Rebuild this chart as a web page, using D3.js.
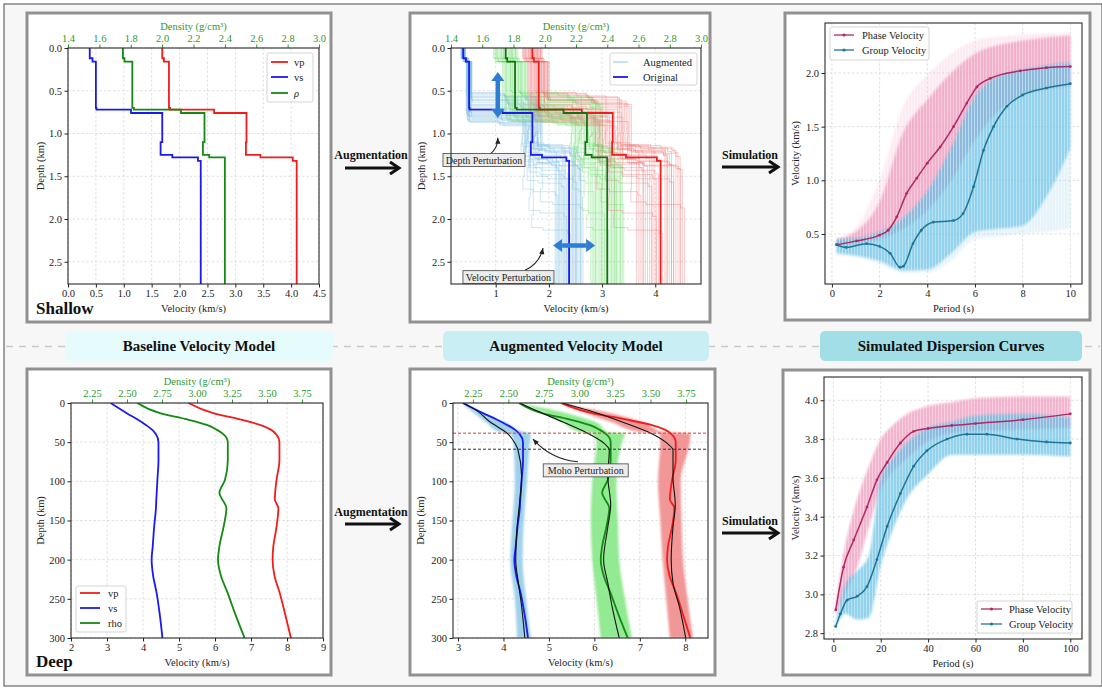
<!DOCTYPE html>
<html>
<head>
<meta charset="utf-8">
<script src="https://cdn.jsdelivr.net/npm/d3@7"></script>
<style>
body{margin:0;background:#fff;}
svg{display:block;font-family:"Liberation Serif","Times New Roman",serif;}
</style>
</head>
<body>
<svg id="fig" width="1102" height="688"></svg>
<script>
// ---------------- shallow layered model (layer tops, km) ----------------
var shallowTop=[0,0.12,0.16,0.70,0.72,0.76,1.10,1.25,1.28,1.32];
var shallowBase=2.76;
var shallowVs=[0.39,0.44,0.50,0.51,1.13,1.69,1.66,1.87,2.33,2.38];
var shallowVp=[1.69,1.72,1.81,1.83,2.62,3.20,3.19,3.45,4.03,4.10];
var shallowRho=[1.75,1.76,1.81,1.82,2.12,2.27,2.26,2.30,2.40,2.40];

// augmented members: velocity scale, shift of upper / lower interfaces (km)
var augScale=[-0.10,0.06,-0.04,0.09,-0.07,0.02,0.11,-0.11,0.04,-0.02,0.07,-0.08,0.01,-0.05,0.10,
              -0.03,0.05,-0.09,0.03,-0.01,0.08,-0.06,0.00,0.06,-0.04,0.09,-0.02,0.03,-0.08,0.05];
var augShiftA=[-0.15,0.05,-0.20,0.10,-0.05,0.15,-0.10,0.02,-0.18,0.08,-0.12,0.12,-0.02,0.14,-0.08,
               0.04,-0.16,0.06,-0.04,0.11,-0.14,0.00,0.09,-0.06,0.13,-0.11,0.03,-0.19,0.07,-0.01];
var augShiftB=[-0.10,0.05,0.30,-0.05,0.12,-0.14,0.55,0.02,-0.08,0.20,-0.12,0.08,0.85,-0.03,0.10,
               -0.15,0.04,0.40,-0.06,0.15,-0.10,0.06,-0.02,0.25,-0.13,0.09,0.65,-0.07,0.01,-0.11];

// ---------------- deep model ----------------
var deepDepth=[0,13,21,28,34,40,50,73,98,115,123,134,158,183,200,220,243,268,300];
var deepVs=[3.10,3.55,3.85,4.08,4.25,4.36,4.43,4.43,4.40,4.38,4.37,4.36,4.31,4.27,4.24,4.28,4.38,4.46,4.54];
var deepVp=[5.26,5.95,6.69,7.25,7.55,7.70,7.79,7.79,7.71,7.67,7.66,7.76,7.71,7.62,7.60,7.65,7.80,7.94,8.11];
var deepRho=[2.574,2.736,2.93,3.07,3.14,3.19,3.22,3.22,3.20,3.16,3.18,3.21,3.19,3.16,3.15,3.17,3.22,3.27,3.34];

// one augmented sample (black) with deeper Moho
var sampleDepth=[0,10,24,38,51,60,94,130,158,200,230,260,300];
var sampleVs=[3.12,3.42,3.70,4.07,4.25,4.32,4.40,4.35,4.30,4.27,4.33,4.40,4.47];
var sampleVp=[5.29,5.90,6.60,7.22,7.59,7.73,7.73,7.78,7.73,7.69,7.73,7.87,8.01];
var sampleRho=[2.58,2.70,2.88,3.05,3.17,3.21,3.20,3.22,3.20,3.17,3.20,3.23,3.28];

// envelopes of augmented deep models
var cloudDepth=[3,15,25,37,39,50,100,150,200,250,300];
var cloudVsLo=[3.12,3.40,3.62,3.90,4.15,4.22,4.25,4.20,4.15,4.25,4.30];
var cloudVsHi=[3.20,3.62,4.05,4.45,4.60,4.58,4.52,4.45,4.42,4.50,4.60];
var cloudRhoLo=[2.60,2.78,2.88,3.00,3.09,3.12,3.09,3.08,3.09,3.12,3.15];
var cloudRhoHi=[2.65,2.95,3.12,3.20,3.32,3.30,3.26,3.27,3.28,3.32,3.37];
var cloudVpLo=[5.32,5.90,6.40,7.00,7.44,7.45,7.40,7.45,7.50,7.58,7.66];
var cloudVpHi=[5.45,6.50,7.10,7.50,8.12,8.10,7.90,7.92,7.95,8.05,8.17];
var mohoOriginal=38.5, mohoShifted=59;

// ---------------- shallow dispersion ----------------
var shPhaseT=[0.2,1.04,2,2.36,2.72,3.14,3.56,4.0,4.54,5.1,5.66,6.08,6.64,7.9,9,10];
var shPhaseV=[0.40,0.436,0.49,0.535,0.66,0.88,1.02,1.16,1.31,1.50,1.72,1.87,1.95,2.02,2.05,2.06];
var shGroupT=[0.2,0.6,1.46,2,2.44,2.86,3.0,3.4,3.75,4.25,5.1,5.5,5.94,6.36,6.78,7.34,8,9,10];
var shGroupV=[0.40,0.375,0.41,0.385,0.32,0.19,0.20,0.41,0.535,0.61,0.625,0.69,0.94,1.28,1.50,1.69,1.795,1.86,1.90];
var shBandT=[0.2,1,2,3,4,5,6,7,8,9,10];
var shPhaseLo=[0.38,0.41,0.45,0.55,0.72,1.00,1.38,1.65,1.80,1.85,1.88];
var shPhaseHi=[0.45,0.52,0.80,1.45,1.75,2.00,2.18,2.26,2.30,2.33,2.35];
var shPhaseOutHi=[0.46,0.56,1.00,1.70,1.98,2.18,2.30,2.34,2.36,2.37,2.37];
var shGroupLo=[0.32,0.30,0.25,0.16,0.17,0.32,0.52,0.55,0.58,0.85,1.30];
var shGroupHi=[0.45,0.46,0.52,0.65,0.90,1.30,1.78,1.97,2.03,2.07,2.10];
var shGroupOutLo=[0.31,0.29,0.22,0.14,0.14,0.25,0.45,0.48,0.50,0.52,0.55];

// ---------------- deep dispersion ----------------
var dpPhaseT=[1,4.3,8.6,14.2,18.4,22.7,28.3,33.9,40,50,60,80,100];
var dpPhaseV=[2.92,3.14,3.28,3.45,3.59,3.68,3.78,3.84,3.855,3.87,3.88,3.90,3.93];
var dpGroupT=[1,3,5.8,10,14.2,18.4,22.7,28.3,33.9,39.5,48,56.4,64.8,77.5,90,100];
var dpGroupV=[2.835,2.90,2.97,2.99,3.04,3.18,3.35,3.52,3.66,3.74,3.80,3.825,3.825,3.80,3.785,3.78];
var dpBandT=[1,5,10,15,20,25,30,40,50,60,80,100];
var dpPhaseLo=[2.89,3.00,3.14,3.35,3.54,3.63,3.69,3.79,3.83,3.84,3.85,3.86];
var dpPhaseHi=[2.95,3.25,3.49,3.66,3.80,3.87,3.92,3.97,3.99,4.01,4.02,4.02];
var dpGroupLo=[2.83,2.90,2.87,2.88,3.15,3.33,3.47,3.62,3.72,3.72,3.72,3.71];
var dpGroupHi=[2.85,3.05,3.12,3.20,3.60,3.70,3.77,3.86,3.89,3.92,3.93,3.91];

var GREEN_TXT="#2e9a2e";
var svg=d3.select("#fig");
var clipN=0;

var defs=svg.append("defs");
defs.append("filter").attr("id","soft").attr("x","-10%").attr("y","-10%").attr("width","120%").attr("height","120%")
    .append("feGaussianBlur").attr("stdDeviation",1.1);
// thin vertical streaks, like many dotted curves stacked
var pat=defs.append("pattern").attr("id","streak").attr("patternUnits","userSpaceOnUse").attr("width",3).attr("height",6);
pat.append("rect").attr("x",2).attr("y",0).attr("width",1).attr("height",6).attr("fill","#fff").attr("fill-opacity",0.35);

// background + outer frame
svg.append("rect").attr("x",4).attr("y",4).attr("width",1098).attr("height",682)
   .attr("fill","#f7f7f7").attr("stroke","#666").attr("stroke-width",1.2);

function makePanel(o){
  svg.append("rect").attr("x",o.box[0]).attr("y",o.box[1]).attr("width",o.box[2]).attr("height",o.box[3])
     .attr("fill","#fff").attr("stroke","#919191").attr("stroke-width",3);
  var p=o.plot;
  var x=d3.scaleLinear().domain(o.xd).range([p[0],p[2]]);
  var y=d3.scaleLinear().domain(o.yd).range(o.down?[p[1],p[3]]:[p[3],p[1]]);
  var t=o.td?d3.scaleLinear().domain(o.td).range([p[0],p[2]]):null;
  var grid=svg.append("g").attr("stroke","#d4d4d4").attr("stroke-width",0.7).attr("stroke-dasharray","2.5,2");
  grid.selectAll(".gx").data(o.xt).join("line")
      .attr("x1",d=>x(d)).attr("x2",d=>x(d)).attr("y1",p[1]).attr("y2",p[3]);
  grid.selectAll(".gy").data(o.yt).join("line")
      .attr("y1",d=>y(d)).attr("y2",d=>y(d)).attr("x1",p[0]).attr("x2",p[2]);
  var id="clip"+(clipN++);
  svg.append("clipPath").attr("id",id).append("rect")
     .attr("x",p[0]).attr("y",p[1]).attr("width",p[2]-p[0]).attr("height",p[3]-p[1]);
  var content=svg.append("g").attr("clip-path","url(#"+id+")");
  var over=svg.append("g");
  var axes=svg.append("g");
  function style(sel,col){
    sel.select(".domain").remove();
    sel.selectAll("line").attr("stroke",col);
    sel.selectAll("text").attr("fill",col).style("font-size","10.5px")
       .style("font-family",'"Liberation Serif",serif');
  }
  axes.append("g").attr("transform","translate(0,"+p[3]+")")
      .call(d3.axisBottom(x).tickValues(o.xt).tickFormat(d3.format(o.xf)).tickSize(3.5).tickPadding(2.5))
      .call(s=>style(s,"#222"));
  axes.append("g").attr("transform","translate("+p[0]+",0)")
      .call(d3.axisLeft(y).tickValues(o.yt).tickFormat(d3.format(o.yf)).tickSize(3.5).tickPadding(2.5))
      .call(s=>style(s,"#222"));
  if(t){
    axes.append("g").attr("transform","translate(0,"+p[1]+")")
        .call(d3.axisTop(t).tickValues(o.tt).tickFormat(d3.format(o.tf)).tickSize(3.5).tickPadding(2.5))
        .call(s=>style(s,GREEN_TXT));
    axes.append("text").attr("x",(p[0]+p[2])/2).attr("y",p[1]-22).attr("dy","0.35em")
        .attr("text-anchor","middle").attr("fill",GREEN_TXT).style("font-size","10.5px")
        .text("Density (g/cm\u00b3)");
  }
  axes.append("rect").attr("x",p[0]).attr("y",p[1]).attr("width",p[2]-p[0]).attr("height",p[3]-p[1])
      .attr("fill","none").attr("stroke","#2a2a2a").attr("stroke-width",1.1);
  axes.append("text").attr("x",(p[0]+p[2])/2).attr("y",p[3]+24).attr("dy","0.35em")
      .attr("text-anchor","middle").attr("fill","#222").style("font-size","10.5px").text(o.xl);
  axes.append("text").attr("transform","translate("+(p[0]-o.ylOff)+","+((p[1]+p[3])/2)+") rotate(-90)")
      .attr("dy","0.35em").attr("text-anchor","middle").attr("fill","#222").style("font-size","10.5px").text(o.yl);
  return {x:x,y:y,t:t,g:content,over:over,axes:axes};
}

function stepPts(tops,vals,base){
  var pts=[];
  for(var i=0;i<tops.length;i++){
    pts.push([vals[i],tops[i]]);
    pts.push([vals[i],i<tops.length-1?tops[i+1]:base]);
  }
  return pts;
}

function legend(g,bx,by,bw,bh,items,lx0,lx1,tx){
  g.append("rect").attr("x",bx).attr("y",by).attr("width",bw).attr("height",bh).attr("rx",2)
   .attr("fill","#fff").attr("fill-opacity",0.9).attr("stroke","#d0d0d0").attr("stroke-width",0.9);
  items.forEach(function(it){
    g.append("line").attr("x1",lx0).attr("x2",lx1).attr("y1",it.y).attr("y2",it.y)
     .attr("stroke",it.c).attr("stroke-width",it.w||1.8).attr("stroke-opacity",it.o||1);
    if(it.m) g.append("circle").attr("cx",(lx0+lx1)/2).attr("cy",it.y).attr("r",1.6).attr("fill",it.c);
    g.append("text").attr("x",tx).attr("y",it.y).attr("dy","0.35em").attr("fill","#222")
     .style("font-size","10.5px").style("font-style",it.it?"italic":"normal").text(it.t);
  });
}

// ---------------- top-left: shallow baseline ----------------
var tl=makePanel({box:[27,13,304,309],plot:[68,48,319,284],xd:[0,4.5],yd:[0,2.76],td:[1.4,3.0],down:true,
  xt:d3.range(0,4.51,0.5),yt:[0,0.5,1,1.5,2,2.5],tt:d3.range(1.4,3.01,0.2),xf:".1f",yf:".1f",tf:".1f",
  xl:"Velocity (km/s)",yl:"Depth (km)",ylOff:28});
var lineV=function(sx,sy){return d3.line().x(d=>sx(d[0])).y(d=>sy(d[1]));};
tl.g.append("path").attr("d",lineV(tl.x,tl.y)(stepPts(shallowTop,shallowVp,shallowBase))).attr("fill","none").attr("stroke","#f21c1c").attr("stroke-width",1.8);
tl.g.append("path").attr("d",lineV(tl.x,tl.y)(stepPts(shallowTop,shallowVs,shallowBase))).attr("fill","none").attr("stroke","#1a1af0").attr("stroke-width",1.8);
tl.g.append("path").attr("d",lineV(tl.t,tl.y)(stepPts(shallowTop,shallowRho,shallowBase))).attr("fill","none").attr("stroke","#138a13").attr("stroke-width",1.8);
legend(tl.over,267,53,46,49,[{t:"vp",c:"#f21c1c",y:62},{t:"vs",c:"#1a1af0",y:77},{t:"\u03c1",c:"#138a13",y:93,it:true}],271,288,294);

// ---------------- top-middle: shallow augmented ----------------
var tm=makePanel({box:[410,13,300,309],plot:[451,48,701,284],xd:[0.16,4.86],yd:[0,2.76],td:[1.4,3.0],down:true,
  xt:[1,2,3,4],yt:[0,0.5,1,1.5,2,2.5],tt:d3.range(1.4,3.01,0.2),xf:"d",yf:".1f",tf:".1f",
  xl:"Velocity (km/s)",yl:"Depth (km)",ylOff:30});
var members=augScale.map(function(s,k){
  var tops=shallowTop.map(function(z,i){return i>=3&&i<=5?z+augShiftA[k]:(i>=6?z+augShiftB[k]:z);});
  return {tops:tops,s:s};
});
var memG=tm.g.append("g").attr("fill","none").attr("stroke-width",1).attr("stroke-opacity",0.36);
members.forEach(function(m){
  memG.append("path").attr("d",lineV(tm.x,tm.y)(stepPts(m.tops,shallowVp.map(v=>v*(1+m.s)),shallowBase))).attr("stroke","#f07070");
  memG.append("path").attr("d",lineV(tm.t,tm.y)(stepPts(m.tops,shallowRho.map(v=>v*(1+m.s*0.4)),shallowBase))).attr("stroke","#66dd66");
  memG.append("path").attr("d",lineV(tm.x,tm.y)(stepPts(m.tops,shallowVs.map(v=>v*(1+m.s)),shallowBase))).attr("stroke","#7fbde0");
});
tm.g.append("path").attr("d",lineV(tm.x,tm.y)(stepPts(shallowTop,shallowVp,shallowBase))).attr("fill","none").attr("stroke","#f21c1c").attr("stroke-width",1.8);
tm.g.append("path").attr("d",lineV(tm.t,tm.y)(stepPts(shallowTop,shallowRho,shallowBase))).attr("fill","none").attr("stroke","#137313").attr("stroke-width",1.8);
tm.g.append("path").attr("d",lineV(tm.x,tm.y)(stepPts(shallowTop,shallowVs,shallowBase))).attr("fill","none").attr("stroke","#1a1af0").attr("stroke-width",1.8);
legend(tm.over,610,53,87,32,[{t:"Augmented",c:"#8cc6e6",y:62,w:1},{t:"Original",c:"#1a1af0",y:77}],613,628,643);

// blue double arrows
function dblArrow(g,x1,y1,x2,y2){
  var a=Math.atan2(y2-y1,x2-x1),L=9,Wd=6.5;
  function head(xe,ye,ang){
    var bx=xe-L*Math.cos(ang),by=ye-L*Math.sin(ang);
    return "M"+xe+","+ye+"L"+(bx+Wd*Math.sin(ang))+","+(by-Wd*Math.cos(ang))+"L"+(bx-Wd*Math.sin(ang))+","+(by+Wd*Math.cos(ang))+"Z";
  }
  g.append("line").attr("x1",x1+L*Math.cos(a)).attr("y1",y1+L*Math.sin(a)).attr("x2",x2-L*Math.cos(a)).attr("y2",y2-L*Math.sin(a))
   .attr("stroke","#2d7dd2").attr("stroke-width",4.5);
  g.append("path").attr("d",head(x2,y2,a)).attr("fill","#2d7dd2");
  g.append("path").attr("d",head(x1,y1,a+Math.PI)).attr("fill","#2d7dd2");
}
dblArrow(tm.over,tm.x(1.04),tm.y(0.28),tm.x(1.04),tm.y(0.82));
dblArrow(tm.over,tm.x(2.08),tm.y(2.31),tm.x(2.87),tm.y(2.31));

function annot(g,text,cx,cy,w,fx,fy,ax,ay,bend){
  var mx=(fx+ax)/2+bend*(ay-fy),my=(fy+ay)/2-bend*(ax-fx);
  g.append("path").attr("d","M"+fx+","+fy+"Q"+mx+","+my+" "+ax+","+ay).attr("fill","none").attr("stroke","#222").attr("stroke-width",1.1);
  var ang=Math.atan2(ay-my,ax-mx);
  g.append("path").attr("d","M"+ax+","+ay+"L"+(ax-6*Math.cos(ang)+2.6*Math.sin(ang))+","+(ay-6*Math.sin(ang)-2.6*Math.cos(ang))
     +"L"+(ax-6*Math.cos(ang)-2.6*Math.sin(ang))+","+(ay-6*Math.sin(ang)+2.6*Math.cos(ang))+"Z").attr("fill","#222");
  g.append("rect").attr("x",cx-w/2).attr("y",cy-6.5).attr("width",w).attr("height",13)
   .attr("fill","#ececec").attr("stroke","#444").attr("stroke-width",0.8);
  g.append("text").attr("x",cx).attr("y",cy).attr("dy","0.35em").attr("text-anchor","middle")
   .attr("fill","#222").style("font-size","10px").text(text);
}
annot(tm.over,"Depth Perturbation",tm.x(0.78),tm.y(1.31),82,tm.x(0.89),tm.y(1.245),tm.x(1.04),tm.y(1.05),-0.25);
annot(tm.over,"Velocity Perturbation",tm.x(1.24),tm.y(2.68),91,tm.x(1.55),tm.y(2.6),tm.x(1.89),tm.y(2.34),-0.25);

// ---------------- top-right: shallow dispersion ----------------
var tr=makePanel({box:[785,13,305,307],plot:[825,23,1082,284],xd:[-0.29,10.49],yd:[0.034,2.466],
  xt:[0,2,4,6,8,10],yt:[0.5,1.0,1.5,2.0],xf:"d",yf:".1f",xl:"Period (s)",yl:"Velocity (km/s)",ylOff:30});
function band(pnl,T,lo,hi,col,op){
  var data=T.map((t,i)=>({t:t,lo:lo[i],hi:hi[i]}));
  var d=d3.area().x(d=>pnl.x(d.t)).y0(d=>pnl.y(d.lo)).y1(d=>pnl.y(d.hi)).curve(d3.curveMonotoneX)(data);
  pnl.g.append("path").attr("d",d).attr("fill",col).attr("fill-opacity",op).attr("filter","url(#soft)");
  pnl.g.append("path").attr("d",d).attr("fill","url(#streak)");
}
function curve(pnl,T,V,col){
  var data=T.map((t,i)=>[t,V[i]]);
  pnl.g.append("path").attr("d",d3.line().x(d=>pnl.x(d[0])).y(d=>pnl.y(d[1])).curve(d3.curveMonotoneX)(data))
     .attr("fill","none").attr("stroke",col).attr("stroke-width",1.5);
  pnl.g.selectAll(null).data(data).join("circle").attr("cx",d=>pnl.x(d[0])).attr("cy",d=>pnl.y(d[1])).attr("r",1.4).attr("fill",col);
}
var PINK="#ee9cbf",CYAN="#5fbde3",PHASE="#b02a64",GROUP="#1f7596";
band(tr,shBandT,shPhaseLo,shPhaseOutHi,PINK,0.2);
band(tr,shBandT,shPhaseLo,shPhaseHi,PINK,0.75);
band(tr,shBandT,shGroupOutLo,shGroupHi,CYAN,0.16);
band(tr,shBandT,shGroupLo,shGroupHi,CYAN,0.62);
curve(tr,shPhaseT,shPhaseV,PHASE);
curve(tr,shGroupT,shGroupV,GROUP);
legend(tr.over,830,27,99,33,[{t:"Phase Velocity",c:PHASE,y:35,w:1.3,m:true},{t:"Group Velocity",c:GROUP,y:50,w:1.3,m:true}],834,854,862);

// ---------------- bottom-left: deep baseline ----------------
var bl=makePanel({box:[27,369,304,306],plot:[71,403,323,638],xd:[2,9],yd:[0,300],td:[2.1,3.9],down:true,
  xt:d3.range(2,9.01,1),yt:d3.range(0,301,50),tt:d3.range(2.25,3.76,0.25),xf:"d",yf:"d",tf:".2f",
  xl:"Velocity (km/s)",yl:"Depth (km)",ylOff:31});
function prof(pnl,sx,D,V,col,w){
  var data=D.map((d,i)=>[V[i],d]);
  pnl.g.append("path").attr("d",d3.line().x(d=>sx(d[0])).y(d=>pnl.y(d[1])).curve(d3.curveMonotoneY)(data))
     .attr("fill","none").attr("stroke",col).attr("stroke-width",w);
}
prof(bl,bl.x,deepDepth,deepVp,"#f21c1c",1.8);
prof(bl,bl.x,deepDepth,deepVs,"#1a1af0",1.8);
prof(bl,bl.t,deepDepth,deepRho,"#138a13",1.8);
legend(bl.over,76,586,50,46,[{t:"vp",c:"#f21c1c",y:593},{t:"vs",c:"#1a1af0",y:608},{t:"rho",c:"#138a13",y:623}],80,100,108);

// ---------------- bottom-middle: deep augmented ----------------
var bm=makePanel({box:[410,369,305,306],plot:[453,403,708,638],xd:[2.89,8.5],yd:[0,300],td:[2.11,3.905],down:true,
  xt:[3,4,5,6,7,8],yt:d3.range(0,301,50),tt:d3.range(2.25,3.76,0.25),xf:"d",yf:"d",tf:".2f",
  xl:"Velocity (km/s)",yl:"Depth (km)",ylOff:33});
function cloud(pnl,sx,lo,hi,col,op){
  var data=cloudDepth.map((d,i)=>({d:d,lo:lo[i],hi:hi[i]}));
  pnl.g.append("path").attr("d",d3.area().y(d=>pnl.y(d.d)).x0(d=>sx(d.lo)).x1(d=>sx(d.hi)).curve(d3.curveMonotoneY)(data))
     .attr("fill",col).attr("fill-opacity",op).attr("filter","url(#soft)");
}
cloud(bm,bm.x,cloudVsLo,cloudVsHi,"#8fc9e8",0.85);
cloud(bm,bm.t,cloudRhoLo,cloudRhoHi,"#7fe67f",0.85);
cloud(bm,bm.x,cloudVpLo,cloudVpHi,"#ef7d7d",0.8);
prof(bm,bm.x,deepDepth,deepVs,"#1a1af0",1.8);
prof(bm,bm.t,deepDepth,deepRho,"#138a13",1.8);
prof(bm,bm.x,deepDepth,deepVp,"#f21c1c",1.8);
prof(bm,bm.x,sampleDepth,sampleVs,"#111",1.1);
prof(bm,bm.t,sampleDepth,sampleRho,"#111",1.1);
prof(bm,bm.x,sampleDepth,sampleVp,"#111",1.1);
bm.g.append("line").attr("x1",bm.x.range()[0]).attr("x2",bm.x.range()[1]).attr("y1",bm.y(mohoOriginal)).attr("y2",bm.y(mohoOriginal))
    .attr("stroke","#e03a3a").attr("stroke-width",1).attr("stroke-dasharray","3,2");
bm.g.append("line").attr("x1",bm.x.range()[0]).attr("x2",bm.x.range()[1]).attr("y1",bm.y(mohoShifted)).attr("y2",bm.y(mohoShifted))
    .attr("stroke","#333").attr("stroke-width",1).attr("stroke-dasharray","3,2");
annot(bm.over,"Moho Perturbation",bm.x(5.81),bm.y(86),85,bm.x(5.64),bm.y(75),bm.x(4.65),bm.y(46),0.2);

// ---------------- bottom-right: deep dispersion ----------------
var br=makePanel({box:[783,370,307,305],plot:[824,377,1082,639],xd:[-3.95,104.95],yd:[2.77,4.12],
  xt:[0,20,40,60,80,100],yt:[2.8,3.0,3.2,3.4,3.6,3.8,4.0],xf:"d",yf:".1f",xl:"Period (s)",yl:"Velocity (km/s)",ylOff:29});
band(br,dpBandT,dpPhaseLo,dpPhaseHi,PINK,0.75);
band(br,dpBandT,dpGroupLo,dpGroupHi,CYAN,0.68);
curve(br,dpPhaseT,dpPhaseV,PHASE);
curve(br,dpGroupT,dpGroupV,GROUP);
legend(br.over,977,601,95,32,[{t:"Phase Velocity",c:PHASE,y:609,w:1.3,m:true},{t:"Group Velocity",c:GROUP,y:624,w:1.3,m:true}],981,1002,1009);

// ---------------- workflow arrows, labels ----------------
function flowArrow(label,cx,ty,x0,x1,ay){
  svg.append("text").attr("x",cx).attr("y",ty).attr("dy","0.35em").attr("text-anchor","middle")
     .attr("fill","#111").style("font-size","12px").style("font-weight","bold").text(label);
  svg.append("line").attr("x1",x0).attr("x2",x1-2).attr("y1",ay).attr("y2",ay).attr("stroke","#111").attr("stroke-width",3);
  svg.append("path").attr("d","M"+(x1-9)+","+(ay-6)+"L"+x1+","+ay+"L"+(x1-9)+","+(ay+6))
     .attr("fill","none").attr("stroke","#111").attr("stroke-width",3);
}
flowArrow("Augmentation",371,155,345,399,168);
flowArrow("Simulation",750,155,722,778,167);
flowArrow("Augmentation",371,512,345,399,524);
flowArrow("Simulation",750,521,722,778,533);

svg.append("line").attr("x1",6).attr("x2",1100).attr("y1",346.5).attr("y2",346.5)
   .attr("stroke","#c9c9c9").attr("stroke-width",1.5).attr("stroke-dasharray","7,6");
var stages=["Baseline Velocity Model","Augmented Velocity Model","Simulated Dispersion Curves"];
var stageX=[65,443,820], stageW=[268,266,262], stageFill=["#e6fbfc","#c9eff4","#a2dee5"];
stages.forEach(function(s,i){
  svg.append("rect").attr("x",stageX[i]).attr("y",331).attr("width",stageW[i]).attr("height",30).attr("rx",5)
     .attr("fill",stageFill[i]);
  svg.append("text").attr("x",stageX[i]+stageW[i]/2).attr("y",346).attr("dy","0.35em").attr("text-anchor","middle")
     .attr("fill","#111").style("font-size","15px").style("font-weight","bold").text(s);
});
svg.append("text").attr("x",36).attr("y",314).attr("fill","#111").style("font-size","17px").style("font-weight","bold").text("Shallow");
svg.append("text").attr("x",36).attr("y",667).attr("fill","#111").style("font-size","17px").style("font-weight","bold").text("Deep");
</script>
</body>
</html>
